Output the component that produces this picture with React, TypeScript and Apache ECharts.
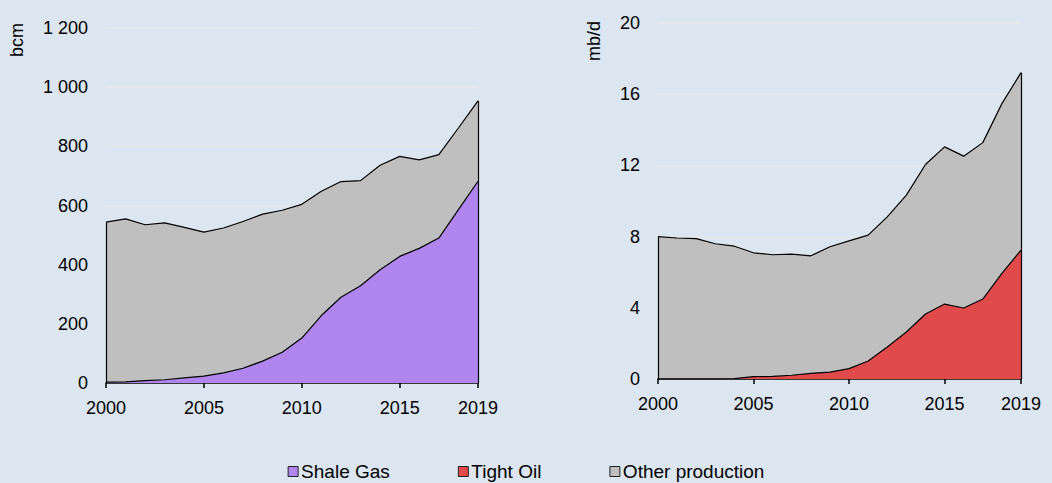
import React, { useEffect, useRef } from "react";
import * as echarts from "echarts";

const years = ["2000","2001","2002","2003","2004","2005","2006","2007","2008","2009","2010","2011","2012","2013","2014","2015","2016","2017","2018","2019"];
const shaleGas = [3,4,8,11,17,23,34,50,74,104,152,228,290,329,383,428,455,490,586,682];
const otherGas = [541,551,527,530,509,487,490,496,497,480,452,420,391,355,353,338,299,282,276,272];
const tightOil = [0.01,0.01,0.01,0.01,0.02,0.13,0.15,0.21,0.32,0.39,0.58,1.01,1.80,2.64,3.65,4.21,3.99,4.49,5.93,7.24];
const otherOil = [7.99,7.91,7.88,7.59,7.44,6.96,6.83,6.81,6.60,7.04,7.18,7.07,7.31,7.69,8.40,8.83,8.53,8.79,9.54,9.97];
const gasTicks = [0, 200, 400, 600, 800, 1000, 1200];
const oilTicks = [0, 4, 8, 12, 16, 20];
const legendNames = ["Shale Gas", "Tight Oil", "Other production"];
const unitNames = ["bcm", "mb/d"];

const FONT = "Liberation Sans, Arial, sans-serif";
const PURPLE = "#b085ee";
const RED = "#e04a4a";
const GREY = "#bfbfbf";

const fmtThousands = (v: number) => String(v).replace(/\B(?=(\d{3})+(?!\d))/g, " ");

export default function App() {
  const ref = useRef<HTMLDivElement>(null);
  useEffect(() => {
    const chart = echarts.init(ref.current!, null, { renderer: "svg" });
    const gasTotal = shaleGas.map((v, i) => v + otherGas[i]);
    const oilTotal = tightOil.map((v, i) => v + otherOil[i]);
    const last = years.length - 1;
    const xAxisBase = (gridIndex: number) => ({
      type: "category",
      gridIndex,
      data: years,
      boundaryGap: false,
      axisLine: { show: true, lineStyle: { color: "#000", width: 1.5 } },
      axisTick: {
        show: true,
        length: 5,
        lineStyle: { color: "#000", width: 1.5 },
        interval: (i: number) => i % 5 === 0 || i === last,
      },
      axisLabel: {
        interval: (i: number) => i % 5 === 0 || i === last,
        color: "#000",
        fontSize: 18,
        fontFamily: FONT,
        margin: 16,
      },
      splitLine: { show: false },
    });
    const yAxisBase = (gridIndex: number, ticks: number[], fmt: (v: number) => string) => ({
      type: "value",
      gridIndex,
      min: ticks[0],
      max: ticks[ticks.length - 1],
      interval: ticks[1] - ticks[0],
      axisLine: { show: false },
      axisTick: { show: false },
      axisLabel: { color: "#000", fontSize: 18, fontFamily: FONT, margin: 18, formatter: (v: number) => fmt(v) },
      splitLine: { show: true, lineStyle: { color: "#e8e8e8", width: 1.5 } },
    });
    const edgeLines = (totals: number[]) => ({
      silent: true,
      symbol: ["none", "none"],
      label: { show: false },
      lineStyle: { color: "#000", width: 1.2, type: "solid" },
      data: [
        [{ coord: [years[0], 0] }, { coord: [years[0], totals[0]] }],
        [{ coord: [years[last], 0] }, { coord: [years[last], totals[last]] }],
      ],
    });
    const areaSeries = (name: string, data: number[], color: string, xi: number, stack: string, extra: any = {}) => ({
      name,
      type: "line",
      xAxisIndex: xi,
      yAxisIndex: xi,
      stack,
      data,
      symbol: "none",
      color,
      lineStyle: { color: "#000", width: 1.2 },
      areaStyle: { color, opacity: 1 },
      itemStyle: { color, borderColor: "#222", borderWidth: 1 },
      z: 2,
      ...extra,
    });
    const unitText = (text: string, x: number, y: number) => ({
      type: "text",
      x,
      y,
      rotation: Math.PI / 2,
      silent: true,
      style: {
        text,
        fill: "#000",
        fontSize: 18,
        fontFamily: FONT,
        align: "center",
        verticalAlign: "middle",
      },
    });
    chart.setOption({
      animation: false,
      backgroundColor: "#dce6f1",
      textStyle: { fontFamily: FONT },
      grid: [
        { left: 106, top: 28, width: 372, height: 355, containLabel: false },
        { left: 658, top: 23, width: 363, height: 356, containLabel: false },
      ],
      xAxis: [xAxisBase(0), xAxisBase(1)],
      yAxis: [yAxisBase(0, gasTicks, fmtThousands), yAxisBase(1, oilTicks, (v) => String(v))],
      graphic: [unitText(unitNames[0], 17, 40), unitText(unitNames[1], 594, 41)],
      legend: {
        data: legendNames,
        left: "center",
        top: 457,
        icon: "rect",
        itemWidth: 10,
        itemHeight: 10,
        itemGap: 68,
        textStyle: { color: "#000", fontSize: 19, fontFamily: FONT, padding: [0, 0, 0, -2] },
        itemStyle: { borderColor: "#222", borderWidth: 1 },
        selectedMode: false,
      },
      series: [
        areaSeries("Shale Gas", shaleGas, PURPLE, 0, "gas"),
        areaSeries("Other production", otherGas, GREY, 0, "gas", { markLine: edgeLines(gasTotal) }),
        areaSeries("Tight Oil", tightOil, RED, 1, "oil"),
        areaSeries("Other production", otherOil, GREY, 1, "oil", { markLine: edgeLines(oilTotal) }),
      ],
    });
    return () => chart.dispose();
  }, []);
  return <div ref={ref} style={{ position: "fixed", left: 0, top: 0, width: 1052, height: 483 }} />;
}
